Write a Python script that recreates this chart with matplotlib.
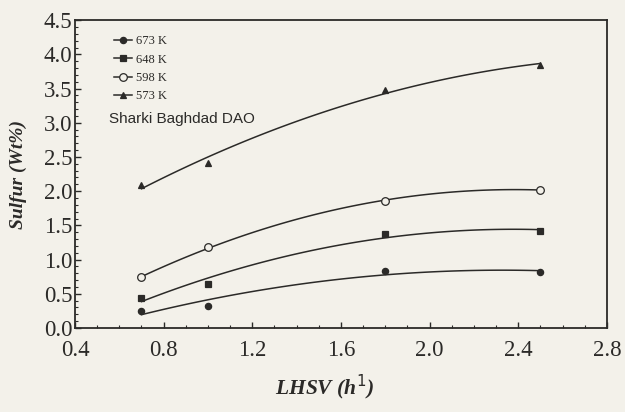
#!/usr/bin/env python3
# -*- coding: utf-8 -*-

"""
Sulfur content vs LHSV at several reactor temperatures (Sharki Baghdad DAO).
"""

import numpy as np
from matplotlib import pyplot as plt
from matplotlib.ticker import MultipleLocator

# DATA ########################################################################

lhsv = [0.7, 1.0, 1.8, 2.5]

sulfur_673 = [0.25, 0.32, 0.83, 0.82]
sulfur_648 = [0.44, 0.64, 1.37, 1.42]
sulfur_598 = [0.74, 1.18, 1.86, 2.02]
sulfur_573 = [2.09, 2.41, 3.48, 3.85]

series_labels = ["673 K", "648 K", "598 K", "573 K"]
x_ticks = [0.4, 0.8, 1.2, 1.6, 2.0, 2.4, 2.8]
y_ticks = [0.0, 0.5, 1.0, 1.5, 2.0, 2.5, 3.0, 3.5, 4.0, 4.5]

# PLOT ########################################################################

paper = "#f3f1ea"
ink = "#2b2a28"

plt.rcParams["font.family"] = ["Liberation Serif", "DejaVu Serif"]

fig = plt.figure(figsize=(6.25, 4.12), dpi=100, facecolor=paper)
ax = fig.add_axes([0.12, 0.204, 0.851, 0.747], facecolor=paper)

styles = [
    dict(marker="o", mfc=ink, ms=4.5),     # 673 K
    dict(marker="s", mfc=ink, ms=4.5),     # 648 K
    dict(marker="o", mfc=paper, ms=5.5),   # 598 K
    dict(marker="^", mfc=ink, ms=4.5),     # 573 K
]

all_series = [sulfur_673, sulfur_648, sulfur_598, sulfur_573]

x_fine = np.linspace(min(lhsv), max(lhsv), 100)

for values, label, style in zip(all_series, series_labels, styles):
    # smooth fitted trend line, as in the original figure
    coeffs = np.polyfit(lhsv, values, 2)
    ax.plot(x_fine, np.polyval(coeffs, x_fine), "-", color=ink, lw=1.1)
    ax.plot(lhsv, values, linestyle="none", color=ink, mec=ink, mew=0.9, **style)
    # legend handle
    ax.plot([], [], "-", color=ink, lw=1.1, label=label, mec=ink, mew=0.9, **style)

leg = ax.legend(loc="upper left", bbox_to_anchor=(0.06, 0.975), frameon=False,
                fontsize=9, handlelength=1.4, handletextpad=0.3,
                labelspacing=0.5, borderaxespad=0.2)
for txt in leg.get_texts():
    txt.set_color(ink)

ax.text(0.063, 0.665, "Sharki Baghdad DAO", transform=ax.transAxes,
        fontsize=11, color=ink, family=["Liberation Sans", "DejaVu Sans"])

ax.set_xlim(0.4, 2.8)
ax.set_ylim(0.0, 4.5)
ax.set_xticks(x_ticks)
ax.set_yticks(y_ticks)
ax.set_xticklabels(["{:.1f}".format(v) for v in x_ticks])
ax.set_yticklabels(["{:.1f}".format(v) for v in y_ticks])
ax.xaxis.set_minor_locator(MultipleLocator(0.1))
ax.yaxis.set_minor_locator(MultipleLocator(0.1))

ax.tick_params(which="both", direction="in", colors=ink, labelsize=16.5,
               top=False, right=False)
ax.tick_params(which="major", length=4, width=1.0)
ax.tick_params(which="minor", length=2, width=0.8)
ax.tick_params(axis="x", which="major", pad=9)
ax.tick_params(axis="y", which="major", pad=2)

for spine in ax.spines.values():
    spine.set_color(ink)
    spine.set_linewidth(1.3)

ax.set_xlabel("LHSV (h$^{1}$)", fontsize=15.5, fontweight="bold",
              fontstyle="italic", color=ink)
ax.xaxis.set_label_coords(0.47, -0.145)
ax.set_ylabel("Sulfur (Wt%)", fontsize=14, fontweight="bold",
              fontstyle="italic", color=ink)
ax.yaxis.set_label_coords(-0.09, 0.5)

fig.savefig("out.png", dpi=100, facecolor=paper)
